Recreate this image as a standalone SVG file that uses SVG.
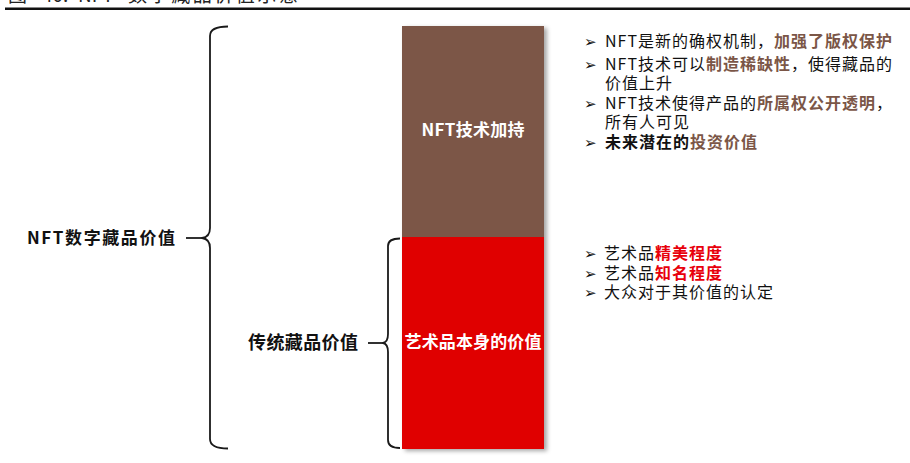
<svg xmlns="http://www.w3.org/2000/svg" width="910" height="463" viewBox="0 0 910 463">
<defs>
<style>
text{font-family:"Noto Sans CJK SC","Noto Sans",sans-serif;}
.lbl{font-size:17px;font-weight:bold;fill:#111;}
.box{font-size:17px;font-weight:bold;fill:#fff;text-anchor:middle;}
.it{font-size:16px;fill:#111;letter-spacing:1px;}
.hb{font-weight:bold;fill:#7B5647;}
.hr{font-weight:bold;fill:#E8000B;}
.bk{font-weight:bold;fill:#111;}
.bul{font-family:"DejaVu Sans",sans-serif;font-size:15px;fill:#111;}
.br{fill:none;stroke:#1a1a1a;stroke-width:1.8;stroke-linejoin:round;}
</style>
<filter id="sh" x="-10%" y="-10%" width="130%" height="120%">
<feDropShadow dx="3" dy="2" stdDeviation="2" flood-color="#000" flood-opacity="0.35"/>
</filter>
</defs>
<rect width="910" height="463" fill="#fff"/>
<g id="title">
<text x="8" y="2" style="font-size:19px;fill:#222;">图<tspan x="42">40:</tspan><tspan x="78">NFT</tspan><tspan x="128" textLength="170">数字藏品价值示意</tspan></text>
<rect x="5" y="7.5" width="905" height="2.5" fill="#111"/>
</g>
<g id="bars" filter="url(#sh)">
<rect x="402" y="26" width="142" height="211" fill="#7B5647"/>
<rect x="402" y="237" width="142" height="212" fill="#E00000"/>
</g>
<g id="node-nft">
<text class="box" x="473" y="136" textLength="103">NFT技术加持</text>
</g>
<g id="node-art">
<text class="box" x="473" y="348" textLength="137">艺术品本身的价值</text>
</g>
<g id="connectors">
<path class="br" d="M228,26.5 Q210,26.5 210,36 L210,228 Q210,237 202,238 Q210,239 210,248 L210,439 Q210,448.5 228,448.5"/>
<line class="br" x1="186" y1="238" x2="202" y2="238"/>
<path class="br" d="M400,238.5 Q388,238.5 388,246 L388,334 Q388,342 383,343 Q388,344 388,352 L388,440 Q388,448 400,448"/>
<line class="br" x1="368" y1="343" x2="383" y2="343"/>
</g>
<g id="node-nftvalue">
<text class="lbl" x="27" y="244" textLength="148">NFT数字藏品价值</text>
</g>
<g id="node-trad">
<text class="lbl" x="248" y="349" textLength="110" style="font-size:18px;">传统藏品价值</text>
</g>
<g id="list-nft">
<text class="bul" x="584" y="47">➢</text>
<text class="it" x="605" y="47">NFT是新的确权机制，<tspan class="hb">加强了版权保护</tspan></text>
<text class="bul" x="584" y="70">➢</text>
<text class="it" x="605" y="70">NFT技术可以<tspan class="hb">制造稀缺性</tspan>，使得藏品的</text>
<text class="it" x="605" y="89">价值上升</text>
<text class="bul" x="584" y="109">➢</text>
<text class="it" x="605" y="109">NFT技术使得产品的<tspan class="hb">所属权公开透明</tspan>，</text>
<text class="it" x="605" y="128">所有人可见</text>
<text class="bul" x="584" y="148">➢</text>
<text class="it" x="605" y="148"><tspan class="bk">未来潜在的</tspan><tspan class="hb">投资价值</tspan></text>
</g>
<g id="list-art">
<text class="bul" x="584" y="259">➢</text>
<text class="it" x="604" y="259">艺术品<tspan class="hr">精美程度</tspan></text>
<text class="bul" x="584" y="279">➢</text>
<text class="it" x="604" y="279">艺术品<tspan class="hr">知名程度</tspan></text>
<text class="bul" x="584" y="298">➢</text>
<text class="it" x="604" y="298">大众对于其价值的认定</text>
</g>
</svg>
